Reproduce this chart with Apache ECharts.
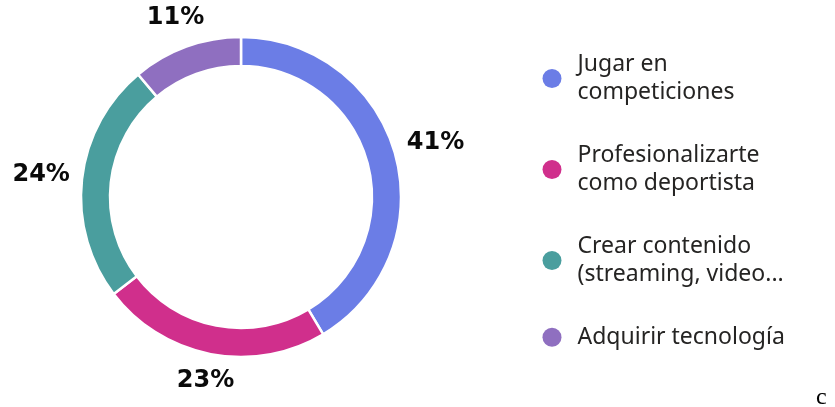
<!DOCTYPE html>
<html>
<head>
<meta charset="utf-8">
<script src="https://cdn.jsdelivr.net/npm/echarts@6/dist/echarts.min.js"></script>
<style>
  html, body { margin: 0; padding: 0; background: #ffffff; }
  #chart { width: 835px; height: 407px; }
</style>
</head>
<body>
<div id="chart"></div>
<script>
// Motivations: share of respondents (%)
const categories = [
  'Jugar en\ncompeticiones',
  'Profesionalizarte\ncomo deportista',
  'Crear contenido\n(streaming, video...',
  'Adquirir tecnología'
];
const shares = [41, 23, 24, 11];
const colors = ['#6B7DE6', '#D02F8C', '#4A9E9E', '#8F6FC0'];

// Ring geometry
const CX = 241, CY = 197, R_OUT = 160, R_IN = 131;
const LABEL_GAP = 11;
const LABEL_W = 58, LABEL_H = 22;

const total = shares.reduce((a, b) => a + b, 0);
// Mid angle of each slice, clockwise from 12 o'clock
const midAngles = [];
let acc = 0;
shares.forEach(v => {
  midAngles.push((acc + v / 2) / total * 2 * Math.PI);
  acc += v;
});

const chart = echarts.init(document.getElementById('chart'), null, { renderer: 'canvas' });

chart.setOption({
  animation: false,
  backgroundColor: '#ffffff',
  color: colors,
  legend: {
    orient: 'vertical',
    left: 537.5,
    top: 45,
    itemGap: 34,
    itemWidth: 19,
    itemHeight: 19,
    itemTextGap: 17,
    icon: 'circle',
    itemStyle: { borderWidth: 0 },
    data: categories,
    textStyle: {
      fontFamily: 'Noto Sans',
      fontSize: 23,
      lineHeight: 28.5,
      color: '#252423',
      padding: [0, 0, 0, 11]
    }
  },
  graphic: [{
    type: 'text',
    left: 816,
    top: 386,
    style: {
      text: 'c',
      font: '24px "Liberation Serif"',
      fill: '#000000'
    }
  }],
  series: [{
    type: 'pie',
    center: [CX, CY],
    radius: [R_IN, R_OUT],
    startAngle: 90,
    clockwise: true,
    avoidLabelOverlap: false,
    itemStyle: { borderColor: '#ffffff', borderWidth: 2.5 },
    label: {
      show: true,
      position: 'outside',
      formatter: '{c}%',
      fontFamily: 'DejaVu Sans',
      fontWeight: 'bold',
      fontSize: 24,
      color: '#0a0a0a'
    },
    labelLine: { show: false },
    labelLayout: function (p) {
      const a = midAngles[p.dataIndex];
      const s = Math.sin(a), c = Math.cos(a);
      const ext = Math.abs(s) * LABEL_W / 2 + Math.abs(c) * LABEL_H / 2;
      const r = R_OUT + LABEL_GAP + ext;
      return {
        x: CX + r * s,
        y: CY - r * c,
        align: 'center',
        verticalAlign: 'middle'
      };
    },
    emphasis: { disabled: true },
    data: categories.map((name, i) => ({ name: name, value: shares[i] }))
  }]
});
</script>
</body>
</html>
